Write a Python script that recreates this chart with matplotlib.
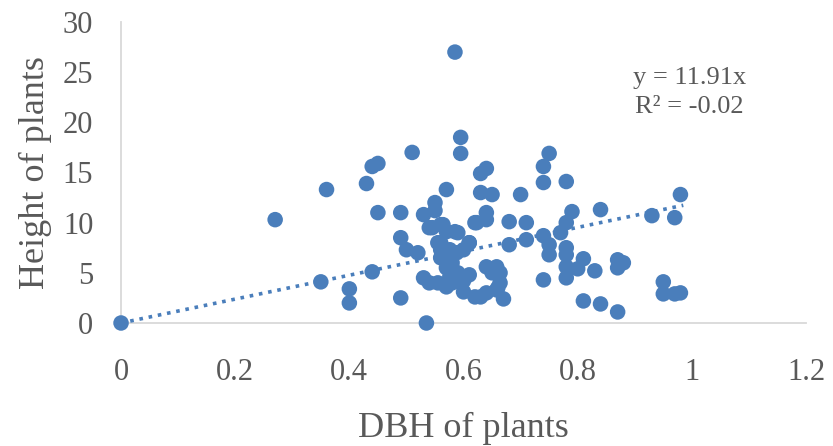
import matplotlib.pyplot as plt
import numpy as np

# DBH (x) and height (y) of plants
dbh = [0, 0.27, 0.35, 0.36, 0.40, 0.40, 0.43, 0.44, 0.45, 0.44, 0.45, 0.49, 0.49,
       0.51, 0.49, 0.50, 0.52, 0.53, 0.535, 0.53, 0.54, 0.55, 0.55, 0.54, 0.56,
       0.56, 0.56, 0.57, 0.57, 0.58, 0.58, 0.57, 0.585, 0.595, 0.595, 0.59, 0.60,
       0.60, 0.61, 0.61, 0.62, 0.62, 0.63, 0.64, 0.63, 0.65, 0.64, 0.64, 0.64,
       0.65, 0.64, 0.66, 0.67, 0.68, 0.68, 0.70, 0.71, 0.71, 0.74, 0.74, 0.75,
       0.74, 0.74, 0.75, 0.75, 0.77, 0.78, 0.78, 0.78, 0.78, 0.78, 0.78, 0.79,
       0.80, 0.81, 0.81, 0.83, 0.84, 0.84, 0.87, 0.88, 0.87, 0.87, 0.93, 0.95,
       0.95, 0.97, 0.97, 0.98, 0.98,
       0.555, 0.576, 0.588, 0.61, 0.555, 0.576, 0.63, 0.658, 0.664, 0.664, 0.658,
       0.585, 0.564, 0.545, 0.623, 0.57, 0.59, 0.58, 0.60, 0.56, 0.58]
height = [0, 10.3, 4.1, 13.3, 3.4, 2.0, 13.9, 15.6, 15.9, 5.1, 11.0, 2.5, 11.0,
          17.0, 8.5, 7.3, 7.0, 10.8, 0.0, 4.5, 4.0, 12.0, 11.2, 9.5, 9.8,
          8.0, 7.3, 13.3, 9.1, 6.0, 4.6, 3.6, 27.0, 18.5, 16.9, 9.0, 7.3,
          3.1, 4.8, 8.0, 10.0, 2.6, 14.9, 15.4, 13.0, 12.8, 11.0, 10.3, 5.6,
          5.0, 3.0, 3.5, 2.4, 10.1, 7.8, 12.8, 10.0, 8.3, 15.6, 14.0, 16.9,
          8.7, 4.3, 7.8, 6.8, 9.0, 10.0, 14.1, 7.5, 6.8, 5.6, 4.5, 11.1,
          5.4, 6.4, 2.2, 5.2, 11.3, 1.9, 6.3, 6.0, 5.5, 1.1, 10.7, 4.1,
          2.9, 10.5, 2.9, 12.8, 3.0,
          8.0, 7.3, 7.0, 8.0, 4.0, 4.6, 2.6, 5.6, 5.0, 4.0, 3.3,
          9.1, 9.8, 9.5, 10.0, 5.5, 5.0, 4.0, 4.2, 6.5, 6.8]

slope = 11.91
trend_x = [0, 0.985]

blue = '#4a7ebb'
grey = '#595959'
font = 'Liberation Serif'

fig = plt.figure(figsize=(8.33, 4.46), dpi=100)
ax = fig.add_axes([0.1453, 0.2758, 0.8223, 0.6749])

ax.plot(trend_x, [slope * v for v in trend_x], linestyle=(0, (1, 1.6)),
        color=blue, linewidth=2.6, zorder=2)
ax.scatter(dbh, height, s=125, color=blue, edgecolors='none', zorder=3,
           clip_on=False)

ax.set_xlim(0, 1.2)
ax.set_ylim(0, 30)
ax.set_xticks(np.arange(0, 1.21, 0.2))
ax.set_xticklabels(['0', '0.2', '0.4', '0.6', '0.8', '1', '1.2'])
ax.set_yticks(range(0, 31, 5))

for side in ['top', 'right']:
    ax.spines[side].set_visible(False)
for side in ['left', 'bottom']:
    ax.spines[side].set_color('#d9d9d9')
    ax.spines[side].set_linewidth(1.3)
    ax.spines[side].set_zorder(1)

ax.tick_params(axis='x', length=0, pad=25, labelsize=22, labelcolor=grey)
ax.tick_params(axis='y', length=0, pad=20, labelsize=22, labelcolor=grey)
for lab in ax.get_xticklabels() + ax.get_yticklabels():
    lab.set_fontfamily(font)

ax.set_xlabel('DBH of plants', fontsize=26, color=grey, family=font, labelpad=18)
ax.set_ylabel('Height of plants', fontsize=26, color=grey, family=font, labelpad=8)

ax.text(0.996, 24.4, 'y = 11.91x', ha='center', va='center', fontsize=19,
        color=grey, family=font)
ax.text(0.996, 21.5, 'R\u00b2 = -0.02', ha='center', va='center', fontsize=19,
        color=grey, family=font)

fig.savefig('out.png', dpi=100)
